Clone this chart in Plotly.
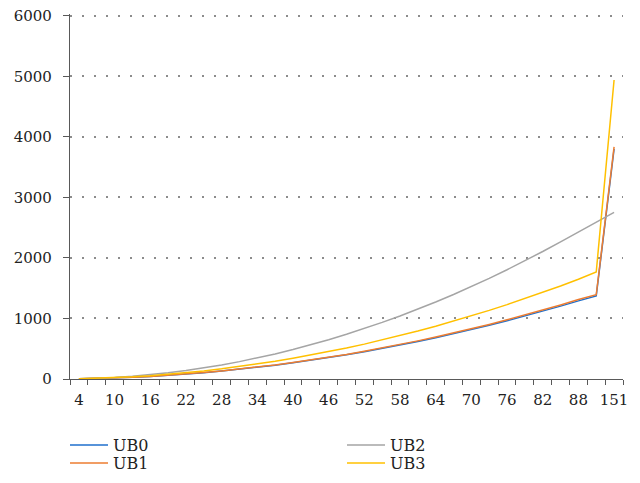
import plotly.graph_objects as go

# Category axis: problem sizes
categories = [4, 7, 10, 13, 16, 19, 22, 25, 28, 31, 34, 37, 40, 43, 46, 49, 52,
              55, 58, 61, 64, 67, 70, 73, 76, 79, 82, 85, 88, 91, 151]

ub0 = [3, 8, 17, 28, 43, 60, 81, 104, 131, 160, 193, 228, 267, 308, 353, 400,
       451, 504, 561, 620, 683, 748, 817, 888, 963, 1040, 1121, 1204, 1291, 1372, 3800]
ub1 = [3, 8, 17, 29, 43, 61, 82, 106, 133, 163, 196, 232, 271, 313, 358, 406,
       458, 512, 570, 630, 694, 760, 830, 902, 978, 1057, 1139, 1224, 1312, 1392, 3835]
ub2 = [0, 9, 23, 44, 70, 102, 139, 183, 232, 287, 347, 414, 486, 564, 648, 738,
       833, 935, 1042, 1154, 1273, 1397, 1527, 1663, 1805, 1953, 2106, 2265, 2430, 2600, 2752]
ub3 = [3, 11, 22, 36, 55, 78, 104, 134, 169, 207, 249, 294, 344, 398, 450, 512,
       576, 644, 716, 792, 872, 955, 1043, 1134, 1229, 1328, 1431, 1537, 1648, 1768, 4940]

series = [("UB0", ub0, "#1f6fcc", "legend"),
          ("UB1", ub1, "#ED7D31", "legend2"),
          ("UB2", ub2, "#A5A5A5", "legend"),
          ("UB3", ub3, "#FFC000", "legend2")]

y_ticks = [0, 1000, 2000, 3000, 4000, 5000, 6000]

x_cats = [str(c) for c in categories]
x_text = [c if i % 2 == 0 else "" for i, c in enumerate(x_cats)]

FONT = "DejaVu Serif"

fig = go.Figure()
for name, vals, color, leg in series:
    fig.add_trace(go.Scatter(
        x=x_cats, y=vals, name=name, mode="lines",
        line=dict(color=color, width=1.5), legend=leg,
    ))

legend_common = dict(
    orientation="h", xref="container", yref="container",
    xanchor="left", yanchor="middle",
    font=dict(family=FONT, size=16, color="#222"),
    itemwidth=38, entrywidth=224, entrywidthmode="pixels",
    bgcolor="rgba(0,0,0,0)", borderwidth=0,
)

fig.update_layout(
    width=640, height=483,
    margin=dict(l=70, r=17, t=14, b=104),
    paper_bgcolor="white", plot_bgcolor="white",
    font=dict(family=FONT, size=15, color="#222"),
    showlegend=True,
    legend=dict(legend_common, x=65 / 640, y=(483 - 445) / 483),
    legend2=dict(legend_common, x=65 / 640, y=(483 - 463) / 483),
    xaxis=dict(
        type="category", range=[-0.5, len(x_cats) - 0.5],
        tickmode="array", tickvals=x_cats, ticktext=x_text,
        tickson="boundaries", ticks="outside", ticklen=5, tickwidth=1,
        tickcolor="#595959", showline=True, linecolor="#595959", linewidth=1.3,
        showgrid=False, zeroline=False, ticklabelstandoff=7, tickangle=0,
        automargin=False,
        tickfont=dict(family=FONT, size=15, color="#222"),
    ),
    yaxis=dict(
        range=[0, 6030], tickvals=y_ticks,
        ticks="outside", ticklen=6, tickwidth=1, tickcolor="#595959",
        showline=True, linecolor="#595959", linewidth=1.3,
        showgrid=True, gridcolor="#8c8c8c", gridwidth=1.5, griddash="1.5px,10.5px",
        zeroline=False, ticklabelstandoff=8, automargin=False,
        tickfont=dict(family=FONT, size=15, color="#222"),
    ),
)

fig.write_html("out.html")
